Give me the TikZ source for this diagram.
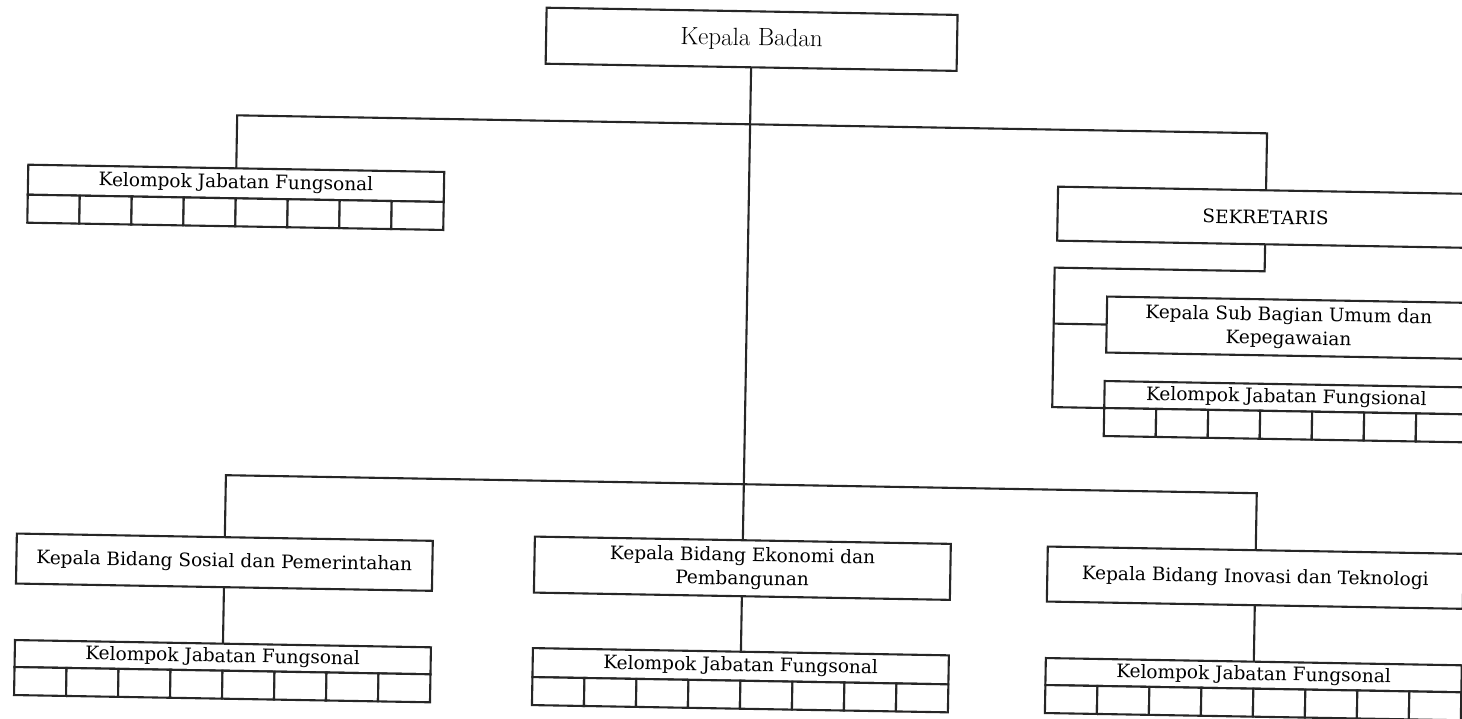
\documentclass[tikz,border=0pt]{standalone}
\usepackage{fontspec}
\newfontfamily\boxfont{DejaVu Serif}
\begin{document}
\begin{tikzpicture}[x=1pt,y=-1pt,
  link/.style={draw=black!85, line width=2.1pt},
  frame/.style={draw=black!85, line width=2.1pt, fill=white, inner sep=2pt,
    outer sep=0pt, align=center, text=black,
    font=\boxfont\fontsize{18.5}{23.5}\selectfont},
  headbox/.style={frame, font=\fontsize{25}{28}\selectfont},
  ttl/.style={frame, inner sep=0pt},
  cell/.style={draw=black!85, line width=2.1pt, fill=white, inner sep=0pt,
    outer sep=0pt, minimum width=52pt, minimum height=28pt}]
\useasboundingbox (0,0) rectangle (1462,719);
\clip (0,0) rectangle (1462,719);
\fill[white] (0,0) rectangle (1462,719);

% A functional group: title bar with a row of empty cells underneath.
% #1 name, #2 x, #3 y (north west corner), #4 cells, #5 title height, #6 text
\newcommand{\kjfgroup}[6]{%
  \node[ttl, anchor=north west, minimum width=#4*52pt, minimum height=#5pt]
    (#1) at (#2,#3) {#6};
  \node[cell, anchor=north west] (#1-1) at (#1.south west) {};
  \foreach \i [remember=\i as \j (initially 1)] in {2,...,#4}
    \node[cell, anchor=north west] (#1-\i) at (#1-\j.north east) {};
}

% the sheet sits at a slight tilt
\begin{scope}[rotate around={-1:(731,360)}, transform shape]
  % head of the agency
  \node[headbox, minimum width=411pt, minimum height=56pt] (kb) at (746,39) {Kepala Badan};

  % upper level
  \kjfgroup{kjf1}{25}{177}{8}{30}{Kelompok Jabatan Fungsonal}
  \node[frame, anchor=north west, minimum width=416pt, minimum height=54pt]
    (sek) at (1055,181) {SEKRETARIS};
  \node[frame, anchor=north west, minimum width=364pt, minimum height=56pt]
    (sub) at (1106,290) {Kepala Sub Bagian Umum dan\\Kepegawaian};
  \kjfgroup{kjf2}{1105}{374.5}{7}{27}{Kelompok Jabatan Fungsional}

  % divisions
  \node[frame, anchor=north west, minimum width=416pt, minimum height=50pt]
    (sos) at (20,546) {Kepala Bidang Sosial dan Pemerintahan};
  \node[frame, anchor=north west, minimum width=416pt, minimum height=56pt]
    (eko) at (538,540) {Kepala Bidang Ekonomi dan\\Pembangunan};
  \node[frame, anchor=north west, minimum width=416pt, minimum height=55pt]
    (ino) at (1051,541) {Kepala Bidang Inovasi dan Teknologi};
  \kjfgroup{kjf3}{20}{652.5}{8}{27}{Kelompok Jabatan Fungsonal}
  \kjfgroup{kjf4}{538}{651.5}{8}{29}{Kelompok Jabatan Fungsonal}
  \kjfgroup{kjf5}{1051}{652.5}{8}{27}{Kelompok Jabatan Fungsonal}

  % bends of the connectors
  \coordinate (tL) at (233,124);
  \coordinate (tR) at (1263,124);
  \coordinate (bL) at (228,484);
  \coordinate (bR) at (1259,484);
  \coordinate (s1) at (1263,262);
  \coordinate (s2) at (1053,262);
  \coordinate (s3) at (1053,401.5);
  \coordinate (s4) at (1053,318);

  % connectors
  \draw[link] (kb.south) -- (eko.north);
  \draw[link] (kjf1.north) -- (tL) -- (tR) -- (sek.north);
  \draw[link] (sos.north) -- (bL) -- (bR) -- (ino.north);
  \draw[link] (sek.south) -- (s1) -- (s2) -- (s3) -- (kjf2.south west);
  \draw[link] (s4) -- (sub.west);
  \draw[link] (sos.south) -- (kjf3.north);
  \draw[link] (eko.south) -- (kjf4.north);
  \draw[link] (ino.south) -- (kjf5.north);
\end{scope}
\end{tikzpicture}
\end{document}
